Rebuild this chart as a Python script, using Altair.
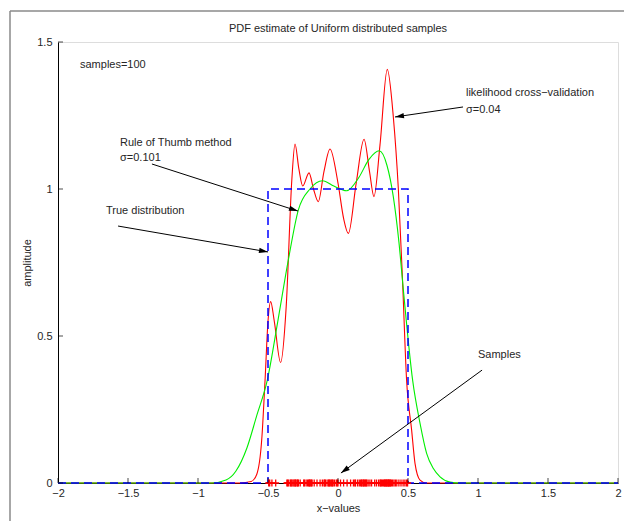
import math
import altair as alt
import pandas as pd

# ---------------- data ----------------
# likelihood cross-validation estimate (sigma = 0.04), red
red_x = [-2.0, -0.70, -0.62, -0.58, -0.545, -0.521, -0.50, -0.481, -0.455, -0.41,
         -0.37, -0.33, -0.307, -0.28, -0.252, -0.207, -0.175, -0.141, -0.10, -0.057,
         0.0, 0.04, 0.074, 0.13, 0.186, 0.225, 0.257, 0.30, 0.352, 0.395,
         0.431, 0.46, 0.49, 0.526, 0.55, 0.586, 0.63, 2.0]
red_y = [0.0, 0.0, 0.005, 0.03, 0.146, 0.35, 0.55, 0.617, 0.55, 0.41,
         0.60, 1.03, 1.153, 1.07, 1.01, 1.055, 1.0, 0.957, 1.06, 1.136,
         1.02, 0.90, 0.849, 1.02, 1.169, 1.06, 0.974, 1.15, 1.407, 1.246,
         1.0, 0.70, 0.35, 0.18, 0.067, 0.01, 0.0, 0.0]

# rule of thumb estimate (sigma = 0.101), green
green_x = [-2.0, -0.9, -0.8, -0.73, -0.65, -0.58, -0.505, -0.43, -0.355, -0.283,
           -0.2, -0.11, -0.03, 0.062, 0.15, 0.22, 0.295, 0.35, 0.395, 0.435,
           0.467, 0.533, 0.586, 0.633, 0.68, 0.729, 0.8, 0.87, 2.0]
green_y = [0.0, 0.0, 0.01, 0.04, 0.12, 0.23, 0.35, 0.55, 0.758, 0.929,
           1.0, 1.028, 1.01, 0.994, 1.04, 1.10, 1.13, 1.08, 0.974, 0.82,
           0.656, 0.35, 0.203, 0.101, 0.05, 0.021, 0.003, 0.0, 0.0]

# true uniform distribution, blue dashed
true_x = [-2.0, -0.5, -0.5, 0.5, 0.5, 2.0]
true_y = [0.0, 0.0, 1.0, 1.0, 0.0, 0.0]

# the 100 samples (rug)
samples = [-0.495, -0.488, -0.472, -0.445,
           -0.365, -0.36, -0.352, -0.34, -0.335, -0.33, -0.322, -0.315, -0.308, -0.305,
           -0.30, -0.292, -0.288, -0.283, -0.27,
           -0.245, -0.24, -0.228, -0.218, -0.21, -0.205, -0.202, -0.195, -0.19, -0.185, -0.17,
           -0.15, -0.128, -0.112, -0.1, -0.095, -0.09, -0.078, -0.068, -0.064, -0.06, -0.052,
           -0.045, -0.04, -0.035, -0.025, -0.012, -0.005, 0.0,
           0.018, 0.04, 0.065, 0.09, 0.11, 0.12, 0.125, 0.14, 0.152, 0.162, 0.168, 0.172,
           0.18, 0.184, 0.188, 0.196, 0.2, 0.205, 0.215, 0.228, 0.24,
           0.262, 0.275, 0.29, 0.3, 0.305, 0.31, 0.318, 0.325, 0.332, 0.335, 0.338, 0.344,
           0.348, 0.35, 0.356, 0.36, 0.362, 0.368, 0.372, 0.375, 0.382, 0.39, 0.4, 0.41,
           0.42, 0.435, 0.45, 0.465, 0.478, 0.49, 0.497]

x_ticks = [-2, -1.5, -1, -0.5, 0, 0.5, 1, 1.5, 2]
y_ticks = [0, 0.5, 1, 1.5]

title_text = "PDF estimate of Uniform distributed samples"
title_pos = [0.0, 1.544]
x_title = "x\u2212values"
y_title = "amplitude"

# annotation texts (left edge, vertical middle) in data units
note_text = ["samples=100", "likelihood cross\u2212validation", "\u03c3=0.04",
             "Rule of Thumb method", "\u03c3=0.101", "True distribution", "Samples"]
note_x = [-1.843, 0.914, 0.914, -1.557, -1.557, -1.657, 1.0]
note_y = [1.422, 1.327, 1.269, 1.156, 1.105, 0.925, 0.435]

# arrows: start -> tip, in data units
arrow_x0 = [0.893, -1.329, -1.571, 1.029]
arrow_y0 = [1.279, 1.085, 0.874, 0.384]
arrow_x1 = [0.407, -0.286, -0.500, 0.021]
arrow_y1 = [1.245, 0.925, 0.786, 0.034]

# ---------------- layout ----------------
W, H = 560, 441
PAD = {"left": 58, "top": 42, "right": 6, "bottom": 38}
FONT = "Liberation Sans"
TXT = "#262626"
XDOM, YDOM = [-2, 2], [0, 1.5]

xs = alt.Scale(domain=XDOM, nice=False, zero=False)
ys = alt.Scale(domain=YDOM, nice=False, zero=False)

x_axis = alt.Axis(values=x_ticks, format="~g", title=x_title, grid=False, ticks=False,
                  tickSize=0, domain=True, domainColor="black", domainWidth=1,
                  labelFont=FONT, labelFontSize=11, labelColor=TXT, labelPadding=4,
                  labelFlush=False, labelOverlap=False,
                  titleFont=FONT, titleFontSize=11, titleFontWeight="normal",
                  titleColor=TXT, titlePadding=4)
y_axis = alt.Axis(values=y_ticks, format="~g", title=y_title, grid=False, ticks=False,
                  tickSize=0, domain=True, domainColor="black", domainWidth=1,
                  labelFont=FONT, labelFontSize=11, labelColor=TXT, labelPadding=6,
                  labelFlush=False, labelOverlap=False,
                  titleFont=FONT, titleFontSize=11, titleFontWeight="normal",
                  titleColor=TXT, titlePadding=4)


def X(field="x"):
    return alt.X(f"{field}:Q", scale=xs, axis=x_axis)


def Y(field="y"):
    return alt.Y(f"{field}:Q", scale=ys, axis=y_axis)


red_df = pd.DataFrame({"x": red_x, "y": red_y})
green_df = pd.DataFrame({"x": green_x, "y": green_y})
true_df = pd.DataFrame({"x": true_x, "y": true_y, "o": list(range(len(true_x)))})
samp_df = pd.DataFrame({"x": samples, "y": [0.0] * len(samples)})
xt_df = pd.DataFrame({"x": x_ticks, "y": [0.0] * len(x_ticks)})
yt_df = pd.DataFrame({"x": [-2.0] * len(y_ticks), "y": y_ticks})
note_df = pd.DataFrame({"t": note_text, "x": note_x, "y": note_y})
title_df = pd.DataFrame({"t": [title_text], "x": [title_pos[0]], "y": [title_pos[1]]})

sx, sy = W / (XDOM[1] - XDOM[0]), H / (YDOM[1] - YDOM[0])
angles = []
for a, b, c, d in zip(arrow_x0, arrow_y0, arrow_x1, arrow_y1):
    dx, dy = (c - a) * sx, -(d - b) * sy
    angles.append(math.degrees(math.atan2(dx, -dy)) % 360)
arr_df = pd.DataFrame({"x": arrow_x0, "y": arrow_y0, "x2": arrow_x1, "y2": arrow_y1,
                       "ang": angles})

frame = alt.Chart(pd.DataFrame({"k": [0]})).mark_rule(color="#8a8a8a", strokeWidth=1.5).encode(
    x=alt.value(-48), y=alt.value(-31), y2=alt.value(H + PAD["bottom"] + 5)
) + alt.Chart(pd.DataFrame({"k": [0]})).mark_rule(color="#8a8a8a", strokeWidth=1.5).encode(
    x=alt.value(-48), x2=alt.value(W + PAD["right"] + 5), y=alt.value(-31)
)

red = alt.Chart(red_df).mark_line(color="#ff0000", strokeWidth=1.1, interpolate="monotone").encode(
    x=X(), y=Y())
green = alt.Chart(green_df).mark_line(color="#00ee00", strokeWidth=1.1, interpolate="monotone").encode(
    x=X(), y=Y())
true_line = alt.Chart(true_df).mark_line(color="#0000ff", strokeWidth=1.5, strokeDash=[8, 5]).encode(
    x=X(), y=Y(), order="o:Q")
rug = alt.Chart(samp_df).mark_point(shape="M-1,0L1,0M0,-1L0,1", filled=False, color="#ff0000",
                                     strokeWidth=1.3, size=49, opacity=1).encode(x=X(), y=Y())
xt = alt.Chart(xt_df).mark_tick(orient="vertical", size=5, thickness=1, color="black",
                                yOffset=-2.5).encode(x=X(), y=Y())
yt = alt.Chart(yt_df).mark_tick(orient="horizontal", size=5, thickness=1, color="black",
                                xOffset=2.5).encode(x=X(), y=Y())
arrow_lines = alt.Chart(arr_df).mark_rule(color="black", strokeWidth=1).encode(
    x=X(), y=Y(), x2="x2:Q", y2="y2:Q")
arrow_heads = alt.Chart(arr_df).mark_point(shape="M0,0L-0.3,1L0.3,1Z", filled=True, color="black",
                                           size=324, opacity=1).encode(
    x=X("x2"), y=Y("y2"), angle=alt.Angle("ang:Q", scale=None))
notes = alt.Chart(note_df).mark_text(align="left", baseline="middle", font=FONT, fontSize=11,
                                     color=TXT).encode(x=X(), y=Y(), text="t:N")
title = alt.Chart(title_df).mark_text(align="center", baseline="middle", font=FONT, fontSize=11,
                                      color=TXT).encode(x=X(), y=Y(), text="t:N")

chart = alt.layer(frame, red, green, true_line, rug, xt, yt, arrow_lines, arrow_heads, notes,
                  title).properties(
    width=W, height=H, padding=PAD, autosize="none",
).configure_view(stroke=None).configure(background="white")

chart.save("out.html", embed_options={"renderer": "svg", "actions": False})
